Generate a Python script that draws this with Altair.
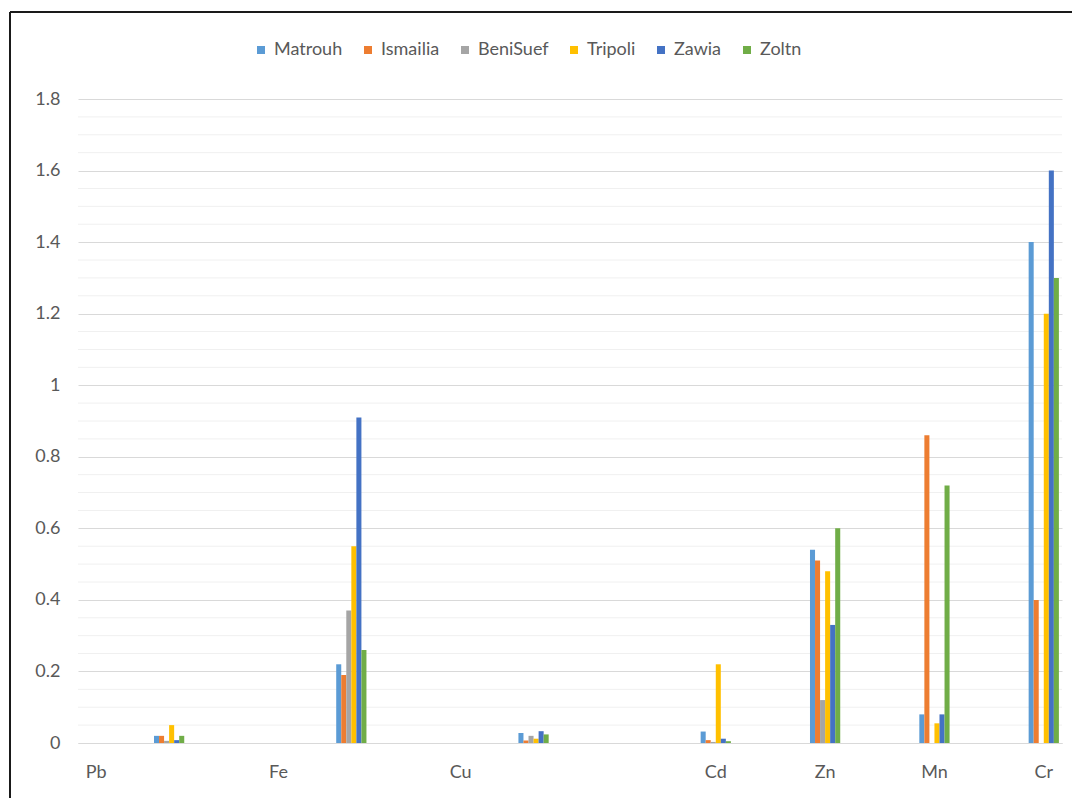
import altair as alt
import pandas as pd

elements = ["Pb", "Fe", "Cu", "Cd", "Zn", "Mn", "Cr"]
series = ["Matrouh", "Ismailia", "BeniSuef", "Tripoli", "Zawia", "Zoltn"]
colors = ["#5B9BD5", "#ED7D31", "#A5A5A5", "#FFC000", "#4472C4", "#70AD47"]

matrouh = [0.02, 0.22, 0.028, 0.032, 0.54, 0.08, 1.40]
ismailia = [0.02, 0.19, 0.007, 0.008, 0.51, 0.86, 0.40]
benisuef = [0.006, 0.37, 0.02, 0.003, 0.12, 0.0, 0.0]
tripoli = [0.05, 0.55, 0.012, 0.22, 0.48, 0.055, 1.20]
zawia = [0.008, 0.91, 0.033, 0.012, 0.33, 0.08, 1.60]
zoltn = [0.02, 0.26, 0.024, 0.005, 0.60, 0.72, 1.30]

# category slots on the axis (Excel-like uneven layout)
n_slots = 27
bar_slots = [2, 7, 12, 17, 20, 23, 26]
label_slots = [0, 5, 10, 17, 20, 23, 26]

values = [matrouh, ismailia, benisuef, tripoli, zawia, zoltn]
rows = []
for s, vals in zip(series, values):
    for el, slot, v in zip(elements, bar_slots, vals):
        rows.append({"element": el, "slot": str(slot), "series": s, "value": v})
df = pd.DataFrame(rows)

domain = [str(i) for i in range(n_slots)]
label_expr = "''"
for el, slot in zip(reversed(elements), reversed(label_slots)):
    label_expr = f"datum.value == '{slot}' ? '{el}' : ({label_expr})"

FONT = "Lato"
TXT = "#595959"

minor = [round(i * 0.05, 2) for i in range(37) if i % 4]
minor_df = pd.DataFrame({"v": minor})

minor_grid = alt.Chart(minor_df).mark_rule(color="#f0f0f0", strokeWidth=1).encode(
    y=alt.Y("v:Q"),
    x=alt.value(0),
    x2=alt.value(984),
)

bars = alt.Chart(df).mark_bar().encode(
    x=alt.X(
        "slot:N",
        scale=alt.Scale(domain=domain, paddingInner=0.17, paddingOuter=0.085),
        axis=alt.Axis(
            title=None,
            values=[str(s) for s in label_slots],
            labelExpr=label_expr,
            labelAngle=0,
            ticks=False,
            domainColor="#d9d9d9",
            domainWidth=1,
            labelPadding=20,
            labelFontSize=18,
            labelFont=FONT,
            labelColor=TXT,
            grid=False,
        ),
    ),
    xOffset=alt.XOffset("series:N", sort=series, scale=alt.Scale(paddingInner=0, paddingOuter=0)),
    y=alt.Y(
        "value:Q",
        scale=alt.Scale(domain=[0, 1.8], nice=False),
        axis=alt.Axis(
            title=None,
            values=[0, 0.2, 0.4, 0.6, 0.8, 1.0, 1.2, 1.4, 1.6, 1.8],
            format="~g",
            ticks=False,
            domain=False,
            gridColor="#d9d9d9",
            labelPadding=18,
            labelFontSize=18,
            labelFont=FONT,
            labelColor=TXT,
        ),
    ),
    color=alt.Color(
        "series:N",
        sort=series,
        scale=alt.Scale(domain=series, range=colors),
        legend=alt.Legend(
            title=None,
            orient="none",
            direction="horizontal",
            legendX=174,
            legendY=-58,
            symbolType="square",
            symbolSize=64,
            symbolStrokeWidth=0,
            labelFontSize=18,
            labelFont=FONT,
            labelColor=TXT,
            columnPadding=16,
            labelOffset=4,
            gridAlign="none",
        ),
    ),
)

border_df = pd.DataFrame({"a": [0]})
top_border = alt.Chart(border_df).mark_rule(color="#1a1a1a", strokeWidth=2).encode(
    x=alt.value(-68), x2=alt.value(1100), y=alt.value(-87)
)
left_border = alt.Chart(border_df).mark_rule(color="#1a1a1a", strokeWidth=2).encode(
    x=alt.value(-68), y=alt.value(-87), y2=alt.value(800)
)

chart = alt.layer(minor_grid, bars, top_border, left_border).properties(
    width=984,
    height=644,
    padding={"left": 70, "top": 91, "right": 10, "bottom": 55},
    autosize="none",
).configure_view(stroke=None)

chart.save("out.html", embed_options={"renderer": "svg", "actions": False})
